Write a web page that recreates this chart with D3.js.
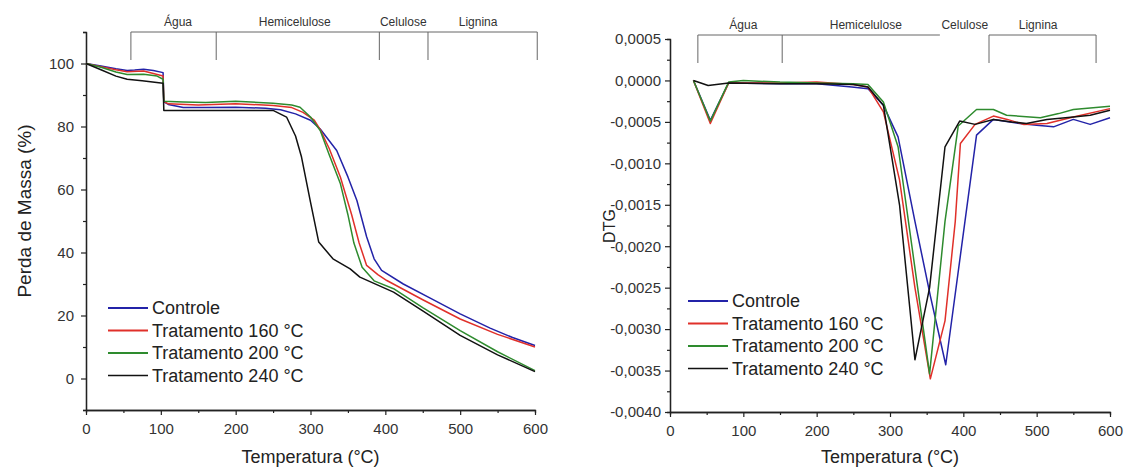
<!DOCTYPE html>
<html lang="pt">
<head>
<meta charset="UTF-8">
<title>TGA / DTG</title>
<script src="https://d3js.org/d3.v7.min.js"></script>
<style>
  body { margin: 0; background: #fff; }
  svg { font-family: Arial, "Liberation Sans", sans-serif; }
</style>
</head>
<body>
<div id="chart"></div>
<script>
// series names + colours
const seriesNames = ["Controle", "Tratamento 160 °C", "Tratamento 200 °C", "Tratamento 240 °C"];
const seriesColors = ["#2323a8", "#e0302a", "#2e8b2e", "#111111"];

// TGA: [temperature, mass %]
const tgaControle = [[0,100],[20,99.2],[40,98.3],[55,97.8],[65,97.9],[77,98.2],[90,97.8],[103,97.1],[104,87.8],[110,87],[130,86],[160,86],[200,86.1],[240,85.8],[260,85.3],[280,84],[300,82],[313,79.2],[335,72.4],[350,64],[362,56.5],[375,45],[385,38],[395,34.3],[424,30],[460,25.5],[500,20.5],[540,16],[570,13],[600,10.5]];
const tga160 = [[0,100],[20,99],[40,98],[55,97.4],[77,97.6],[103,96],[104,88],[110,87.2],[150,86.8],[200,87.2],[250,86.7],[275,86],[290,84.5],[305,82],[313,79],[325,73],[340,63.9],[355,52],[365,43],[375,35.9],[390,33],[402,31.1],[450,25],[500,18.9],[550,14],[600,10]];
const tga200 = [[0,100],[20,98.8],[40,97.3],[55,96.5],[77,96.6],[95,96],[103,95],[104,88],[130,87.8],[160,87.6],[200,88],[250,87.4],[275,86.8],[286,86.1],[300,83],[313,78.7],[325,71],[340,61.8],[350,52],[358,43],[369,35.3],[385,31],[411,28.5],[450,22.5],[500,15.2],[550,8.5],[600,2.5]];
const tga240 = [[0,100],[20,98],[40,96],[55,95],[75,94.5],[103,93.7],[104,85.1],[150,85.1],[200,85.1],[250,85.1],[268,83],[280,77],[288,70.3],[300,56],[311,43.3],[330,38],[353,34.8],[366,32.2],[411,27.4],[450,21.5],[500,13.7],[550,7.5],[600,2.2]];

// DTG: [temperature, dm/dT]
const dtgControle = [[32,0],[55,-0.00048],[80,-0.00003],[150,-0.00004],[200,-0.00004],[248,-0.00008],[270,-0.0001],[291,-0.0003],[311,-0.00068],[334,-0.0017],[355,-0.0026],[376,-0.00343],[418,-0.00066],[441,-0.00047],[477,-0.00052],[500,-0.00054],[523,-0.00056],[550,-0.00047],[573,-0.00053],[600,-0.00045]];
const dtg160 = [[32,0],[55,-0.00052],[80,-0.00003],[150,-0.00003],[200,-0.00002],[250,-0.00005],[270,-0.00008],[291,-0.00038],[313,-0.0012],[334,-0.0025],[355,-0.0036],[375,-0.0029],[389,-0.0017],[396,-0.00076],[416,-0.00053],[441,-0.00043],[460,-0.00047],[482,-0.00053],[514,-0.00052],[550,-0.00044],[600,-0.00034]];
const dtg200 = [[32,0],[55,-0.00049],[80,-0.00002],[100,0],[150,-0.00002],[200,-0.00003],[250,-0.00004],[270,-0.00005],[291,-0.00026],[311,-0.0008],[333,-0.0022],[354,-0.00354],[375,-0.0017],[393,-0.00055],[418,-0.00035],[441,-0.00035],[459,-0.00042],[505,-0.00045],[530,-0.0004],[550,-0.00035],[600,-0.00031]];
const dtg240 = [[32,0],[52,-0.00006],[80,-0.00003],[150,-0.00004],[200,-0.00004],[250,-0.00005],[270,-0.00008],[291,-0.0003],[313,-0.0015],[334,-0.00337],[354,-0.0025],[375,-0.0008],[395,-0.00049],[416,-0.00053],[441,-0.00047],[466,-0.0005],[486,-0.00052],[514,-0.00047],[550,-0.00044],[573,-0.00042],[600,-0.00036]];

// region brackets (temperatures) and their labels
const stageLabels = ["Água", "Hemicelulose", "Celulose", "Lignina"];
const tgaStageEdges = [60, 174, 392, 457, 603];
const tgaStageLabelAt = [123, 279, 424, 524];
const dtgStageEdges = [38, 153, 368, 435, 581];
const dtgStageLabelAt = [100, 267, 402, 502];

// tick values
const xTicks = [0, 100, 200, 300, 400, 500, 600];
const tgaTicks = [0, 20, 40, 60, 80, 100];
const dtgTicks = [0.0005, 0, -0.0005, -0.001, -0.0015, -0.002, -0.0025, -0.003, -0.0035, -0.004];

const svg = d3.select("#chart").append("svg")
    .attr("width", 1125)
    .attr("height", 468);

const ptBR = d3.formatLocale({decimal: ",", thousands: ".", grouping: [3], currency: ["", ""], minus: "-"});

function panel(opt) {
    const x = d3.scaleLinear().domain([0, 600]).range([opt.x0, opt.x1]);
    const y = d3.scaleLinear().domain(opt.yDomain).range([opt.yBottom, opt.yTop]);
    const g = svg.append("g");

    // minor ticks
    const xMinor = d3.axisBottom(x).tickValues(d3.range(50, 600, 100)).tickSize(3).tickFormat("");
    const yMinor = d3.axisLeft(y).tickValues(opt.yMinor).tickSize(3).tickFormat("");
    g.append("g").attr("transform", `translate(0,${opt.yBottom})`).call(xMinor);
    g.append("g").attr("transform", `translate(${opt.x0},0)`).call(yMinor);

    const xAxis = d3.axisBottom(x).tickValues(xTicks).tickSize(5).tickSizeOuter(0).tickPadding(8);
    const yAxis = d3.axisLeft(y).tickValues(opt.yTicks).tickSize(5).tickSizeOuter(0).tickPadding(opt.yPad).tickFormat(opt.fmt);
    g.append("g").attr("class", "ax").attr("transform", `translate(0,${opt.yBottom})`).call(xAxis);
    g.append("g").attr("class", "ax").attr("transform", `translate(${opt.x0},0)`).call(yAxis);
    g.selectAll(".domain").attr("stroke", "#222").attr("stroke-width", 1.3);
    g.selectAll(".tick line").attr("stroke", "#222").attr("stroke-width", 1.2);
    g.selectAll(".ax text").attr("font-size", 15).attr("fill", "#333")
        .attr("font-family", "Arial, 'Liberation Sans', sans-serif");

    // titles
    g.append("text")
        .attr("x", (opt.x0 + opt.x1) / 2).attr("y", 463)
        .attr("text-anchor", "middle").attr("font-size", 18).attr("fill", "#222")
        .text("Temperatura (°C)");
    g.append("text")
        .attr("transform", `translate(${opt.yTitleX},${opt.yTitleY}) rotate(-90)`)
        .attr("text-anchor", "middle").attr("font-size", opt.yTitleSize).attr("fill", "#222")
        .text(opt.yTitle);

    // brackets
    const e = opt.edges;
    const bk = g.append("g").attr("stroke", "#666").attr("stroke-width", 1).attr("fill", "none");
    opt.segments.forEach(function (s) {
        bk.append("line").attr("x1", x(e[s[0]])).attr("x2", x(e[s[1]]))
            .attr("y1", opt.bracketY).attr("y2", opt.bracketY);
    });
    opt.verticals.forEach(function (i) {
        bk.append("line").attr("x1", x(e[i])).attr("x2", x(e[i]))
            .attr("y1", opt.bracketY).attr("y2", opt.bracketY + 28);
    });
    stageLabels.forEach(function (s, i) {
        g.append("text")
            .attr("x", x(opt.labelAt[i])).attr("y", opt.bracketY - 6)
            .attr("text-anchor", "middle").attr("font-size", 12).attr("fill", "#333")
            .text(s);
    });

    // curves
    const line = d3.line().x(d => x(d[0])).y(d => y(d[1]));
    opt.series.forEach(function (s, i) {
        g.append("path").datum(s)
            .attr("fill", "none")
            .attr("stroke", seriesColors[i])
            .attr("stroke-width", 1.5)
            .attr("stroke-linejoin", "round")
            .attr("d", line);
    });

    // legend
    seriesNames.forEach(function (n, i) {
        const ly = opt.legY + i * 22.5;
        g.append("line")
            .attr("x1", opt.legX).attr("x2", opt.legX + 40)
            .attr("y1", ly).attr("y2", ly)
            .attr("stroke", seriesColors[i]).attr("stroke-width", i == 3 ? 1.5 : 2);
        g.append("text")
            .attr("x", opt.legX + 44).attr("y", ly + 6)
            .attr("font-size", 18).attr("fill", "#222")
            .text(n);
    });
}

panel({
    x0: 86, x1: 535, yTop: 32, yBottom: 410,
    yDomain: [-10, 110],
    yTicks: tgaTicks,
    yMinor: d3.range(-10, 111, 10).filter(v => v % 20 != 0),
    fmt: d3.format("d"),
    yPad: 7,
    yTitle: "Perda de Massa (%)", yTitleX: 31, yTitleY: 211, yTitleSize: 19,
    edges: tgaStageEdges, labelAt: tgaStageLabelAt,
    segments: [[0, 4]], verticals: [0, 1, 2, 3, 4],
    bracketY: 32,
    series: [tgaControle, tga160, tga200, tga240],
    legX: 108, legY: 308
});

panel({
    x0: 670, x1: 1110, yTop: 39, yBottom: 412,
    yDomain: [-0.004, 0.0005],
    yTicks: dtgTicks,
    yMinor: d3.range(-0.00375, 0.0005, 0.0005),
    fmt: ptBR.format(".4f"),
    yPad: 4,
    yTitle: "DTG", yTitleX: 615, yTitleY: 226, yTitleSize: 16,
    edges: dtgStageEdges, labelAt: dtgStageLabelAt,
    segments: [[0, 2], [3, 4]], verticals: [0, 1, 3, 4],
    bracketY: 35,
    series: [dtgControle, dtg160, dtg200, dtg240],
    legX: 688, legY: 301
});
</script>
</body>
</html>
